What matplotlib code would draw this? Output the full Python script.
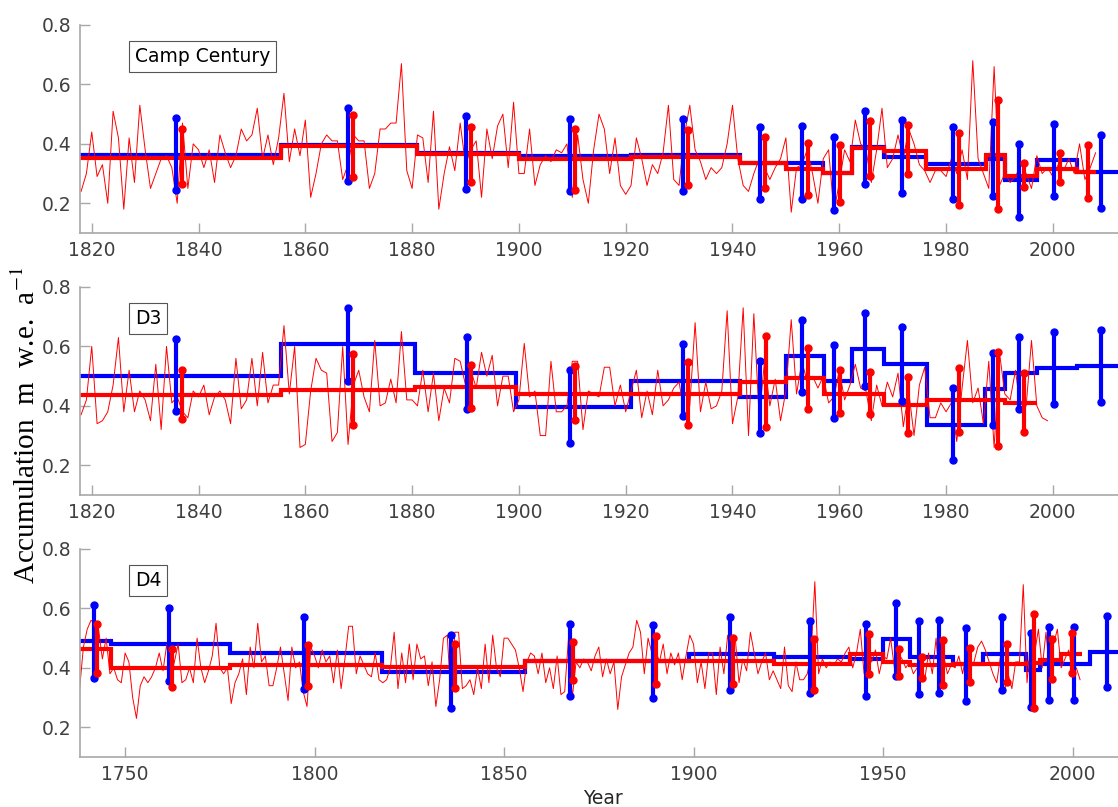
import numpy as np
import matplotlib
matplotlib.use('Agg')
import matplotlib.pyplot as plt

# ---- Camp Century ----
cc_start = 1818
cc_annual = [0.24, 0.30, 0.44, 0.29, 0.33, 0.20, 0.51, 0.42, 0.18, 0.42,
             0.27, 0.53, 0.38, 0.25, 0.30, 0.35, 0.36, 0.32, 0.20, 0.47,
             0.25, 0.40, 0.38, 0.32, 0.38, 0.27, 0.43, 0.37, 0.32, 0.36,
             0.45, 0.41, 0.43, 0.52, 0.35, 0.43, 0.33, 0.42, 0.57, 0.34,
             0.45, 0.36, 0.48, 0.22, 0.30, 0.40, 0.43, 0.41, 0.41, 0.28,
             0.33, 0.43, 0.41, 0.41, 0.25, 0.30, 0.45, 0.45, 0.47, 0.47,
             0.67, 0.31, 0.25, 0.43, 0.42, 0.27, 0.51, 0.18, 0.30, 0.39,
             0.31, 0.47, 0.33, 0.38, 0.41, 0.22, 0.45, 0.35, 0.46, 0.50,
             0.32, 0.54, 0.30, 0.30, 0.45, 0.26, 0.33, 0.36, 0.34, 0.38,
             0.37, 0.40, 0.22, 0.43, 0.28, 0.20, 0.38, 0.50, 0.45, 0.30,
             0.42, 0.26, 0.23, 0.26, 0.42, 0.35, 0.26, 0.33, 0.30, 0.37,
             0.53, 0.28, 0.26, 0.43, 0.53, 0.38, 0.34, 0.28, 0.32, 0.30,
             0.32, 0.40, 0.53, 0.35, 0.26, 0.24, 0.30, 0.35, 0.32, 0.28,
             0.32, 0.35, 0.42, 0.17, 0.32, 0.33, 0.38, 0.30, 0.20, 0.35,
             0.38, 0.17, 0.27, 0.38, 0.34, 0.48, 0.40, 0.38, 0.27, 0.38,
             0.52, 0.32, 0.35, 0.43, 0.35, 0.45, 0.40, 0.33, 0.31, 0.27,
             0.31, 0.31, 0.29, 0.35, 0.30, 0.38, 0.28, 0.68, 0.35, 0.30,
             0.25, 0.66, 0.26, 0.30, 0.27, 0.29, 0.33, 0.30, 0.25, 0.36,
             0.30, 0.32, 0.29, 0.33, 0.31, 0.35, 0.30, 0.40, 0.28, 0.32, 0.37]
cc_blue_edges = [1817.8, 1855.5, 1881, 1900, 1921, 1941.5, 1950, 1957, 1962.3,
                 1968.3, 1976.3, 1987.4, 1991, 1997, 2004.5, 2012.2]
cc_blue_vals = [0.363, 0.397, 0.369, 0.358, 0.362, 0.336, 0.337, 0.303, 0.39,
                0.356, 0.333, 0.35, 0.277, 0.345, 0.306]
cc_red_edges = [1817.8, 1855.5, 1881, 1900, 1921, 1941.5, 1950, 1957, 1962.3,
                1968.3, 1976.3, 1987.4, 1991, 1997, 2004.5, 2008]
cc_red_vals = [0.353, 0.394, 0.366, 0.35, 0.355, 0.336, 0.316, 0.303, 0.385,
               0.376, 0.316, 0.362, 0.292, 0.316, 0.306]
cc_blue_x = [1835.8, 1867.9, 1890.1, 1909.5, 1930.7, 1945.1, 1953.0, 1959.1,
             1964.8, 1971.7, 1981.3, 1988.7, 1993.6, 2000.3, 2009.0]
cc_blue_hi = [0.487, 0.521, 0.493, 0.484, 0.485, 0.456, 0.460, 0.423, 0.512,
              0.479, 0.457, 0.473, 0.40, 0.467, 0.43]
cc_blue_lo = [0.245, 0.275, 0.249, 0.241, 0.242, 0.213, 0.213, 0.178, 0.266,
              0.233, 0.213, 0.226, 0.155, 0.224, 0.185]
cc_red_x = [1836.9, 1869.0, 1891.0, 1910.5, 1931.7, 1946.1, 1954.1, 1960.1,
            1965.8, 1972.8, 1982.4, 1989.8, 1994.6, 2001.3, 2006.5]
cc_red_hi = [0.45, 0.498, 0.457, 0.45, 0.448, 0.423, 0.403, 0.397, 0.476,
             0.463, 0.437, 0.547, 0.334, 0.37, 0.396]
cc_red_lo = [0.265, 0.29, 0.273, 0.246, 0.263, 0.25, 0.228, 0.205, 0.291,
             0.299, 0.194, 0.18, 0.256, 0.27, 0.217]

# ---- D3 ----
d3_start = 1818
d3_annual = [0.37, 0.42, 0.60, 0.34, 0.35, 0.38, 0.47, 0.63, 0.38, 0.52,
             0.38, 0.45, 0.42, 0.35, 0.54, 0.32, 0.60, 0.41, 0.43, 0.38,
             0.36, 0.45, 0.43, 0.47, 0.37, 0.43, 0.45, 0.42, 0.34, 0.56,
             0.39, 0.42, 0.56, 0.40, 0.58, 0.41, 0.47, 0.47, 0.67, 0.44,
             0.60, 0.26, 0.27, 0.45, 0.56, 0.52, 0.51, 0.28, 0.31, 0.60,
             0.27, 0.47, 0.52, 0.43, 0.38, 0.62, 0.40, 0.41, 0.49, 0.41,
             0.65, 0.42, 0.42, 0.40, 0.52, 0.38, 0.51, 0.35, 0.46, 0.41,
             0.56, 0.55, 0.47, 0.52, 0.46, 0.58, 0.50, 0.57, 0.40, 0.50,
             0.50, 0.38, 0.42, 0.61, 0.43, 0.45, 0.30, 0.30, 0.55, 0.38,
             0.38, 0.40, 0.55, 0.55, 0.32, 0.45, 0.44, 0.43, 0.53, 0.53,
             0.40, 0.47, 0.38, 0.45, 0.52, 0.36, 0.45, 0.37, 0.52, 0.40,
             0.42, 0.46, 0.48, 0.37, 0.40, 0.68, 0.38, 0.48, 0.39, 0.40,
             0.45, 0.72, 0.34, 0.43, 0.73, 0.30, 0.71, 0.36, 0.55, 0.40,
             0.49, 0.35, 0.45, 0.69, 0.44, 0.55, 0.48, 0.50, 0.46, 0.50,
             0.41, 0.43, 0.52, 0.42, 0.47, 0.54, 0.46, 0.45, 0.35, 0.47,
             0.40, 0.48, 0.43, 0.51, 0.33, 0.45, 0.30, 0.47, 0.53, 0.36,
             0.36, 0.41, 0.38, 0.41, 0.28, 0.46, 0.62, 0.41, 0.46, 0.34,
             0.55, 0.26, 0.58, 0.44, 0.42, 0.52, 0.38, 0.40, 0.62, 0.40,
             0.36, 0.35]
d3_blue_edges = [1817.8, 1855.5, 1880.5, 1899.5, 1921, 1941.5, 1950, 1957.1,
                 1962.3, 1968.3, 1976.4, 1987.3, 1991, 1997, 2004.5, 2012.2]
d3_blue_vals = [0.502, 0.608, 0.512, 0.396, 0.485, 0.429, 0.567, 0.484, 0.591,
                0.541, 0.336, 0.457, 0.51, 0.528, 0.533]
d3_red_edges = [1817.8, 1855.5, 1880.5, 1899.5, 1921, 1941.5, 1950, 1957.1,
                1962.3, 1968.3, 1976.4, 1987.3, 1991, 1997]
d3_red_vals = [0.438, 0.455, 0.465, 0.44, 0.44, 0.481, 0.494, 0.44, 0.44,
               0.404, 0.42, 0.42, 0.41]
d3_blue_x = [1835.8, 1867.9, 1890.2, 1909.5, 1930.7, 1945.1, 1953.0, 1959.1,
             1964.8, 1971.7, 1981.3, 1988.7, 1993.6, 2000.3, 2009.0]
d3_blue_hi = [0.625, 0.728, 0.633, 0.519, 0.608, 0.552, 0.689, 0.605, 0.712,
              0.664, 0.46, 0.578, 0.633, 0.649, 0.656]
d3_blue_lo = [0.382, 0.485, 0.388, 0.275, 0.365, 0.308, 0.446, 0.36, 0.468,
              0.418, 0.217, 0.334, 0.388, 0.407, 0.412]
d3_red_x = [1836.9, 1869.0, 1891.1, 1910.5, 1931.7, 1946.2, 1954.1, 1960.1,
            1965.8, 1972.8, 1982.4, 1989.8, 1994.6]
d3_red_hi = [0.521, 0.575, 0.539, 0.535, 0.546, 0.634, 0.595, 0.519, 0.513,
             0.498, 0.528, 0.582, 0.512]
d3_red_lo = [0.357, 0.335, 0.393, 0.351, 0.334, 0.328, 0.39, 0.375, 0.372,
             0.308, 0.312, 0.265, 0.312]

# ---- D4 ----
d4_start = 1738
d4_annual = [0.33, 0.47, 0.53, 0.56, 0.55, 0.53, 0.43, 0.50, 0.38, 0.40,
             0.36, 0.35, 0.45, 0.42, 0.30, 0.23, 0.34, 0.37, 0.35, 0.37,
             0.40, 0.45, 0.39, 0.48, 0.36, 0.42, 0.48, 0.35, 0.36, 0.40,
             0.35, 0.50, 0.40, 0.35, 0.39, 0.44, 0.55, 0.40, 0.38, 0.40,
             0.28, 0.35, 0.38, 0.43, 0.31, 0.47, 0.40, 0.55, 0.42, 0.44,
             0.34, 0.34, 0.40, 0.47, 0.38, 0.29, 0.47, 0.40, 0.42, 0.32,
             0.27, 0.47, 0.44, 0.40, 0.46, 0.42, 0.44, 0.35, 0.46, 0.33,
             0.43, 0.54, 0.54, 0.38, 0.44, 0.41, 0.38, 0.37, 0.45, 0.36,
             0.35, 0.36, 0.40, 0.52, 0.33, 0.45, 0.35, 0.48, 0.36, 0.48,
             0.43, 0.44, 0.34, 0.42, 0.27, 0.36, 0.50, 0.51, 0.30, 0.52,
             0.52, 0.33, 0.34, 0.36, 0.31, 0.40, 0.33, 0.48, 0.35, 0.51,
             0.40, 0.37, 0.50, 0.50, 0.48, 0.46, 0.40, 0.32, 0.42, 0.45,
             0.44, 0.38, 0.45, 0.35, 0.40, 0.33, 0.44, 0.31, 0.32, 0.50,
             0.30, 0.42, 0.40, 0.43, 0.42, 0.39, 0.44, 0.47, 0.37, 0.43,
             0.38, 0.42, 0.26, 0.37, 0.41, 0.45, 0.47, 0.56, 0.52, 0.38,
             0.50, 0.45, 0.46, 0.42, 0.48, 0.38, 0.45, 0.41, 0.45, 0.36,
             0.44, 0.51, 0.48, 0.35, 0.42, 0.33, 0.45, 0.45, 0.31, 0.47,
             0.38, 0.51, 0.44, 0.50, 0.35, 0.43, 0.39, 0.52, 0.45, 0.38,
             0.42, 0.45, 0.36, 0.39, 0.36, 0.33, 0.47, 0.34, 0.32, 0.42,
             0.36, 0.36, 0.38, 0.44, 0.69, 0.38, 0.43, 0.40, 0.42, 0.41,
             0.43, 0.42, 0.45, 0.47, 0.40, 0.45, 0.53, 0.38, 0.52, 0.42,
             0.46, 0.38, 0.44, 0.43, 0.50, 0.40, 0.45, 0.43, 0.40, 0.42,
             0.38, 0.40, 0.42, 0.36, 0.45, 0.38, 0.50, 0.33, 0.44, 0.38,
             0.41, 0.40, 0.44, 0.38, 0.45, 0.40, 0.42, 0.47, 0.49, 0.46,
             0.42, 0.38, 0.35, 0.44, 0.32, 0.38, 0.33, 0.42, 0.42, 0.68,
             0.35, 0.50, 0.45, 0.53, 0.40, 0.52, 0.38, 0.48, 0.53, 0.40,
             0.43, 0.46, 0.38, 0.40, 0.36]
d4_blue_edges = [1738.1, 1746.2, 1777.8, 1817.7, 1855.5, 1898.8, 1921.3, 1941.4,
                 1950, 1957.2, 1968.5, 1976.3, 1987.6, 1991.4, 2004.6, 2012]
d4_blue_vals = [0.49, 0.479, 0.45, 0.386, 0.423, 0.448, 0.436, 0.429, 0.496,
                0.438, 0.414, 0.448, 0.392, 0.414, 0.453]
d4_red_edges = [1738.1, 1746.2, 1777.8, 1817.7, 1855.5, 1898.8, 1921.3, 1941.4,
                1950, 1957.2, 1968.5, 1976.3, 1987.6, 1991.4, 1997, 2002.5]
d4_red_vals = [0.465, 0.40, 0.41, 0.404, 0.423, 0.423, 0.412, 0.445, 0.42,
               0.41, 0.412, 0.414, 0.417, 0.425, 0.448]
d4_blue_x = [1741.7, 1761.6, 1797.2, 1836.1, 1867.4, 1889.2, 1909.5, 1930.7,
             1945.4, 1953.4, 1959.4, 1964.8, 1972.0, 1981.4, 1989.0, 1993.9,
             2000.5, 2009.2]
d4_blue_hi = [0.61, 0.60, 0.571, 0.51, 0.549, 0.543, 0.57, 0.559, 0.548, 0.618,
              0.557, 0.562, 0.535, 0.57, 0.518, 0.537, 0.537, 0.576]
d4_blue_lo = [0.367, 0.356, 0.328, 0.264, 0.305, 0.298, 0.325, 0.314, 0.305,
              0.371, 0.312, 0.314, 0.289, 0.325, 0.267, 0.293, 0.293, 0.334]
d4_red_x = [1742.5, 1762.5, 1798.3, 1837.1, 1868.3, 1890.2, 1910.4, 1931.8,
            1946.3, 1954.1, 1960.2, 1965.9, 1973.0, 1982.6, 1989.9, 1994.7,
            1999.8]
d4_red_hi = [0.548, 0.464, 0.477, 0.479, 0.488, 0.507, 0.499, 0.496, 0.515,
             0.464, 0.438, 0.493, 0.468, 0.479, 0.581, 0.498, 0.516]
d4_red_lo = [0.384, 0.334, 0.339, 0.332, 0.358, 0.345, 0.345, 0.326, 0.378,
             0.373, 0.367, 0.342, 0.354, 0.353, 0.264, 0.362, 0.382]

BLUE = '#0000ff'
RED = '#ff0000'
GREY = '#a8a8a8'
TXT = '#404040'

plt.rcParams['font.family'] = ['DejaVu Sans']
fig = plt.figure(figsize=(11.18, 8.07), dpi=100)

W, H = 1118.0, 807.0


def panel(top_px, bot_px, xlim, xticks, name, start, annual,
          b_edges, b_vals, r_edges, r_vals,
          bx, blo, bhi, rx, rlo, rhi):
    ax = fig.add_axes([80 / W, 1 - bot_px / H, 1 - 80 / W, (bot_px - top_px) / H])
    yrs = np.arange(start, start + len(annual))
    ax.plot(yrs, annual, color=RED, lw=0.7)
    ax.stairs(b_vals, b_edges, baseline=None, color=BLUE, lw=3)
    ax.vlines(bx, blo, bhi, color=BLUE, lw=3)
    ax.plot(bx, blo, 'o', color=BLUE, ms=5)
    ax.plot(bx, bhi, 'o', color=BLUE, ms=5)
    ax.stairs(r_vals, r_edges, baseline=None, color=RED, lw=3)
    ax.vlines(rx, rlo, rhi, color=RED, lw=3)
    ax.plot(rx, rlo, 'o', color=RED, ms=5)
    ax.plot(rx, rhi, 'o', color=RED, ms=5)
    ax.set_xlim(*xlim)
    ax.set_ylim(0.1, 0.8)
    ax.set_xticks(xticks)
    ax.set_yticks([0.2, 0.4, 0.6, 0.8])
    ax.set_yticklabels(['0.2', '0.4', '0.6', '0.8'])
    for s in ['top', 'right']:
        ax.spines[s].set_visible(False)
    for s in ['left', 'bottom']:
        ax.spines[s].set_color(GREY)
        ax.spines[s].set_linewidth(1.2)
    ax.tick_params(direction='in', length=7, width=1, color=GREY,
                   labelcolor=TXT, labelsize=13.5, pad=6)
    ax.text(0.053, 0.894, name, transform=ax.transAxes, ha='left', va='top',
            fontsize=13.5, color='black',
            bbox=dict(boxstyle='square,pad=0.3', fc='white', ec='#555555', lw=0.8))
    return ax


panel(25, 233, (1817.8, 2012.2), range(1820, 2001, 20), 'Camp Century',
      cc_start, cc_annual, cc_blue_edges, cc_blue_vals, cc_red_edges, cc_red_vals,
      cc_blue_x, cc_blue_lo, cc_blue_hi, cc_red_x, cc_red_lo, cc_red_hi)
panel(287, 495, (1817.8, 2012.2), range(1820, 2001, 20), 'D3',
      d3_start, d3_annual, d3_blue_edges, d3_blue_vals, d3_red_edges, d3_red_vals,
      d3_blue_x, d3_blue_lo, d3_blue_hi, d3_red_x, d3_red_lo, d3_red_hi)
panel(549, 757, (1738.1, 2012.0), range(1750, 2001, 50), 'D4',
      d4_start, d4_annual, d4_blue_edges, d4_blue_vals, d4_red_edges, d4_red_vals,
      d4_blue_x, d4_blue_lo, d4_blue_hi, d4_red_x, d4_red_lo, d4_red_hi)

fig.text(27 / W, 1 - 425 / H, 'Accumulation  m  w.e.  a$^{-1}$', rotation=90,
         ha='center', va='center', fontsize=21, color='black',
         family='Liberation Serif', math_fontfamily='stix')
fig.text(603 / W, 1 - 798 / H, 'Year', ha='center', va='center',
         fontsize=13.5, color='#262626')

fig.savefig('out.png', dpi=100)
